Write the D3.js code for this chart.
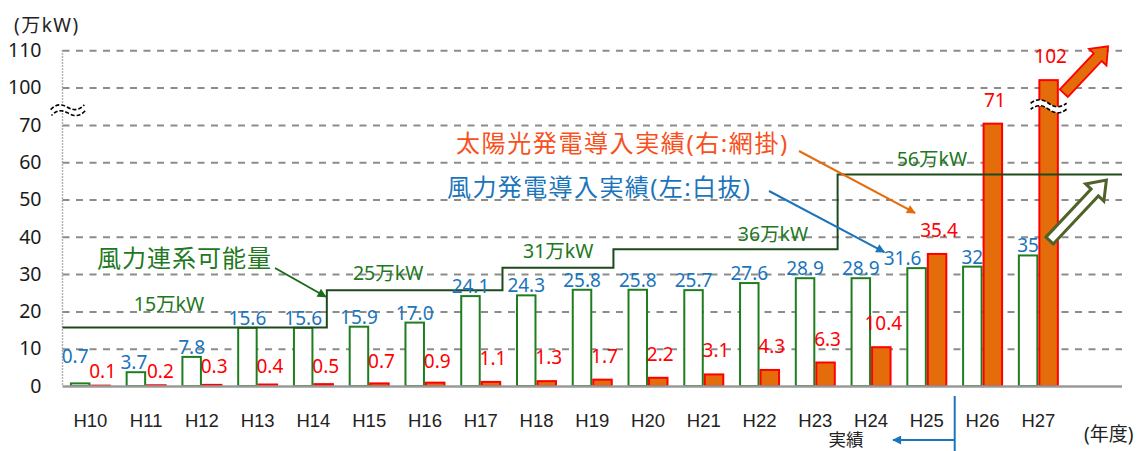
<!DOCTYPE html>
<html>
<head>
<meta charset="utf-8">
<script src="https://cdn.jsdelivr.net/npm/d3@7"></script>
<style>
	body { margin: 0; background: #fff; }
	svg { display: block; font-family: "Noto Sans", "Noto Sans CJK JP", sans-serif; }
</style>
</head>
<body>
<div id="chart"></div>
<script>
// data
const years = ["H10", "H11", "H12", "H13", "H14", "H15", "H16", "H17", "H18", "H19", "H20", "H21", "H22", "H23", "H24", "H25", "H26", "H27"];
const wind = [0.7, 3.7, 7.8, 15.6, 15.6, 15.9, 17.0, 24.1, 24.3, 25.8, 25.8, 25.7, 27.6, 28.9, 28.9, 31.6, 32, 35];
const windText = ["0.7", "3.7", "7.8", "15.6", "15.6", "15.9", "17.0", "24.1", "24.3", "25.8", "25.8", "25.7", "27.6", "28.9", "28.9", "31.6", "32", "35"];
const solar = [0.1, 0.2, 0.3, 0.4, 0.5, 0.7, 0.9, 1.1, 1.3, 1.7, 2.2, 3.1, 4.3, 6.3, 10.4, 35.4, 71, 102];
const yTicks = [0, 10, 20, 30, 40, 50, 60, 70, 100, 110];

// wind connection capacity (step line), steps at fractional category positions
const capValues = [15, 25, 31, 36, 56];
const capSteps = [0, 4.74, 7.89, 9.88, 13.9];
const capText = ["15万kW", "25万kW", "31万kW", "36万kW", "56万kW"];

// label placement tweaks (like hand-moved Excel labels)
const capLabelAt = [1.91, 5.84, 8.89, 12.74, 15.59];
const capLabelDy = [-17, -10, -10, -8, -9];
const windNudge = { H10: [-5, -17], H11: [-2, 0], H25: [-14, 0] };
const solarNudge = { H10: 9.5, H11: 10, H12: 5.5, H13: 5.5, H14: 6, H15: 2, H16: 2.5 };

let width = 1142,
	height = 451,
	left = 62.5,
	right = 1122,
	base = 386,
	step = 37.3;

let svg = d3.select('#chart').append('svg')
	.attr('width', width)
	.attr('height', height)

let slots = years.length + 1;
let slotW = (right - left) / slots;

let x = d3.scaleBand()
	.domain(years)
	.range([left, left + years.length * slotW])
	.paddingInner(0.265)
	.paddingOuter(0.1325);

let bw = x.bandwidth() / 2;

// index scale for things sitting between categories
let xi = d3.scaleLinear().domain([0, slots]).range([left, right]);

// broken axis: 70 jumps to 100
let y = d3.scaleLinear()
	.domain([0, 70, 100, 110])
	.range([base, base - 7 * step, base - 8 * step, base - 9 * step]);

const green = "#217821",
	blue = "#1B75BC",
	red = "#FF0000",
	orange = "#E46C0A";

// gridlines
svg.append("g")
	.attr("transform", "translate(" + left + ",0)")
	.call(d3.axisRight(y).tickValues(yTicks.filter(d => d > 0)).tickSize(right - left).tickFormat(""))
	.call(g => g.select(".domain").remove())
	.selectAll("line")
	.attr("stroke", "#8c8c8c")
	.attr("stroke-width", 2)
	.attr("stroke-dasharray", "7 6.5");

// y axis labels
svg.append("g")
	.attr("transform", "translate(" + left + ",0)")
	.call(d3.axisLeft(y).tickValues(yTicks).tickSize(0).tickPadding(21))
	.call(g => g.select(".domain").remove())
	.selectAll("text")
	.attr("font-size", 19.5)
	.attr("font-family", "Noto Sans")
	.attr("fill", "#1a1a1a");

// dotted y axis line
svg.append("line")
	.attr("x1", left).attr("x2", left)
	.attr("y1", y(110)).attr("y2", base)
	.attr("stroke", "#999")
	.attr("stroke-width", 1.5)
	.attr("stroke-dasharray", "1.5 1.5");

// x axis
let xAxis = svg.append("g")
	.attr("transform", "translate(0," + base + ")")
	.call(d3.axisBottom(x).tickSize(0))
	.call(g => g.select(".domain").remove());
xAxis.selectAll("text")
	.attr("y", 41)
	.attr("dy", null)
	.attr("font-size", 18.5)
	.attr("fill", "#222");

// wind bars (hollow)
svg.selectAll('.wind')
	.data(years)
	.enter().append('rect').classed('wind', true)
	.attr('x', d => x(d) + 1)
	.attr('width', bw - 2)
	.attr('y', (d, i) => y(wind[i]))
	.attr('height', (d, i) => base - y(wind[i]))
	.attr('fill', '#fff')
	.attr('stroke', '#1f7d1f')
	.attr('stroke-width', 2);

// solar bars (filled)
svg.selectAll('.solar')
	.data(years)
	.enter().append('rect').classed('solar', true)
	.attr('x', d => x(d) + bw + 1)
	.attr('width', bw - 2)
	.attr('y', (d, i) => y(solar[i]))
	.attr('height', (d, i) => base - y(solar[i]))
	.attr('fill', orange)
	.attr('stroke', red)
	.attr('stroke-width', 2);

// x axis line
svg.append("line")
	.attr("x1", left).attr("x2", right)
	.attr("y1", base + 0.5).attr("y2", base + 0.5)
	.attr("stroke", "#9a9a9a")
	.attr("stroke-width", 2.5);

// capacity step line
let capPts = capSteps.map((s, i) => [s, capValues[i]]).concat([[slots, capValues[capValues.length - 1]]]);
svg.append("path")
	.attr("d", d3.line().x(d => xi(d[0])).y(d => y(d[1])).curve(d3.curveStepAfter)(capPts))
	.attr("transform", "translate(0,-2.5)")
	.attr("fill", "none")
	.attr("stroke", "#1d4a1d")
	.attr("stroke-width", 2);

svg.selectAll('.capLabel')
	.data(capText)
	.enter().append('text').classed('capLabel', true)
	.attr('x', (d, i) => xi(capLabelAt[i]))
	.attr('y', (d, i) => y(capValues[i]) - 2.5 + capLabelDy[i])
	.attr('text-anchor', 'middle')
	.attr('font-size', 19.5)
	.attr('fill', green)
	.text(d => d);

// wind labels
svg.selectAll('.windLabel')
	.data(years)
	.enter().append('text').classed('windLabel', true)
	.attr('x', d => x(d) + bw / 2 + (windNudge[d] ? windNudge[d][0] : 0))
	.attr('y', (d, i) => y(wind[i]) - 3 + (windNudge[d] ? windNudge[d][1] : 0))
	.attr('text-anchor', 'middle')
	.attr('font-size', 19)
	.attr('fill', blue)
	.text((d, i) => windText[i]);

// solar labels
svg.selectAll('.solarLabel')
	.data(years)
	.enter().append('text').classed('solarLabel', true)
	.attr('x', d => x(d) + bw * 1.5 + (d === "H11" ? 4 : 2))
	.attr('y', (d, i) => y(solar[i]) - 17 + (solarNudge[d] || 0))
	.attr('text-anchor', 'middle')
	.attr('font-size', 19)
	.attr('fill', red)
	.text((d, i) => solar[i]);

// break marks (axis and the 102 bar)
function breakMark(cx, cy, w, rot) {
	let h = w / 2, A = 3.5, g = 6;
	let top = "M" + (-h) + ",0 Q" + (-h / 2) + "," + (-2 * A) + " 0,0 T" + h + ",0";
	let bot = "M" + h + "," + g + " Q" + (h / 2) + "," + (g + 2 * A) + " 0," + g + " T" + (-h) + "," + g;
	let mark = svg.append("g").attr("transform", "translate(" + cx + "," + (cy - g / 2) + ") rotate(" + rot + ")");
	mark.append("path")
		.attr("d", top + " L" + h + "," + g + bot.replace("M" + h + "," + g, "") + "Z")
		.attr("fill", "#fff");
	[top, bot].forEach(p => mark.append("path")
		.attr("d", p)
		.attr("fill", "none")
		.attr("stroke", "#000")
		.attr("stroke-width", 1.6)
		.attr("stroke-dasharray", "4 2"));
}
breakMark(left + 5, (y(70) + y(100)) / 2 + 4, 34, -8);
breakMark(x("H27") + bw * 1.5, (y(70) + y(100)) / 2, 36, 0);

// arrow heads
let defs = svg.append("defs");
[["g", "#1a6b1a"], ["o", orange], ["b", "#1B75BC"], ["bb", "#1B75BC"]].forEach(m => {
	defs.append("marker")
		.attr("id", "ah-" + m[0])
		.attr("viewBox", "0 0 10 10")
		.attr("refX", 9).attr("refY", 5)
		.attr("markerWidth", 12).attr("markerHeight", 9)
		.attr("markerUnits", "userSpaceOnUse")
		.attr("orient", "auto")
		.append("path")
		.attr("d", "M0,0 L10,5 L0,10 Z")
		.attr("fill", m[1]);
});

function arrowLine(x1, y1, x2, y2, col, id) {
	svg.append("line")
		.attr("x1", x1).attr("y1", y1).attr("x2", x2).attr("y2", y2)
		.attr("stroke", col)
		.attr("stroke-width", 2)
		.attr("marker-end", "url(#ah-" + id + ")");
}

// annotations
svg.append("text")
	.attr("x", 97).attr("y", 267)
	.attr("font-size", 24).attr("letter-spacing", 1)
	.attr("fill", green)
	.text("風力連系可能量");
arrowLine(275, 268, xi(capSteps[1]) - 1, y(capValues[1]) + 4, "#1a6b1a", "g");

svg.append("text")
	.attr("x", 456).attr("y", 152)
	.attr("font-size", 24).attr("letter-spacing", 1.6)
	.attr("fill", "#F8501C")
	.text("太陽光発電導入実績(右:網掛)");
arrowLine(799, 151, x("H25") + bw * 1.5 - 22, y(35.4) - 41, orange, "o");

svg.append("text")
	.attr("x", 447).attr("y", 196)
	.attr("font-size", 24).attr("letter-spacing", 1.4)
	.attr("fill", blue)
	.text("風力発電導入実績(左:白抜)");
arrowLine(769, 191, x("H25") - 22, y(31.6) - 16, blue, "b");

// block arrows on the right
function blockArrow(x1, y1, x2, y2, shaft, head, headLen) {
	let dx = x2 - x1, dy = y2 - y1,
		L = Math.hypot(dx, dy),
		a = Math.atan2(dy, dx) * 180 / Math.PI,
		s = shaft / 2, hh = head / 2, b = L - headLen;
	let pts = [[0, -s], [b, -s], [b, -hh], [L, 0], [b, hh], [b, s], [0, s]];
	return svg.append("path")
		.attr("d", "M" + pts.join("L") + "Z")
		.attr("transform", "translate(" + x1 + "," + y1 + ") rotate(" + a + ")");
}
blockArrow(x("H27") + bw * 2 + 5, y(102) + 13, xi(18.75), y(110) - 4, 11, 24, 15)
	.attr("fill", orange)
	.attr("stroke", red)
	.attr("stroke-width", 1.8);
blockArrow(x("H27") + bw * 1.5 + 1, y(39), xi(18.72), y(55.2), 10, 25, 17)
	.attr("fill", "#fff")
	.attr("stroke", "#4F6228")
	.attr("stroke-width", 3);

// units
svg.append("text")
	.attr("x", 14).attr("y", 32)
	.attr("font-size", 19).attr("letter-spacing", 1.5)
	.attr("fill", "#222")
	.text("(万kW)");

svg.append("text")
	.attr("x", 1084).attr("y", 441)
	.attr("font-size", 19)
	.attr("fill", "#222")
	.text("(年度)");

// actual results marker under the axis
let cut = x("H25") + x.bandwidth() + (x.step() - x.bandwidth()) / 2;
svg.append("line")
	.attr("x1", cut).attr("x2", cut)
	.attr("y1", base + 10).attr("y2", height)
	.attr("stroke", blue).attr("stroke-width", 2);
arrowLine(cut, 440, 893, 440, blue, "bb");
svg.append("text")
	.attr("x", 846).attr("y", 446)
	.attr("text-anchor", "middle")
	.attr("font-family", "Noto Sans CJK JP")
	.attr("font-size", 17.5)
	.attr("fill", "#222")
	.text("実績");
</script>
</body>
</html>
